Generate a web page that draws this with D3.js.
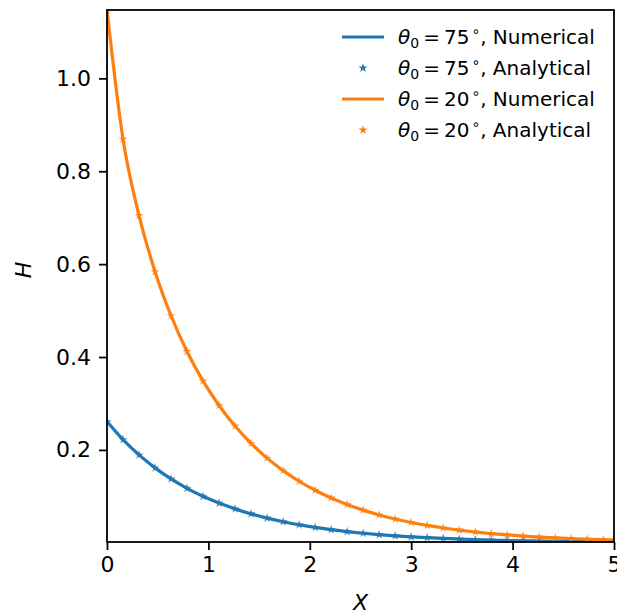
<!DOCTYPE html>
<html lang="en">
  <head>
    <meta charset="UTF-8" />
    <title>Meniscus height</title>
    <style>
      body { margin: 0; background: #fff; }
      .axis path, .axis line { fill: none; stroke: black; }
      .axis text { font-family: 'DejaVu Sans', sans-serif; font-size: 22px; fill: black; }
      .legend text { font-family: 'DejaVu Sans', sans-serif; font-size: 20px; }
    </style>
    <script src="https://d3js.org/d3.v7.min.js"></script>
  </head>
  <body>
    <svg width="617" height="614"></svg>
    <script>
      // sample positions along X (analytical markers, numerical line nodes)
      var xs = [0, 0.158, 0.316, 0.474, 0.632, 0.789, 0.947, 1.105, 1.263, 1.421,
        1.579, 1.737, 1.895, 2.053, 2.211, 2.368, 2.526, 2.684, 2.842, 3.0,
        3.158, 3.316, 3.474, 3.632, 3.789, 3.947, 4.105, 4.263, 4.421, 4.579,
        4.737, 4.895, 5.0]

      // theta0 = 75 deg
      var num75 = [0.2611, 0.2221, 0.1892, 0.1613, 0.1375, 0.1173, 0.1001, 0.0855, 0.0730, 0.0623,
        0.0532, 0.0454, 0.0388, 0.0331, 0.0283, 0.0241, 0.0206, 0.0176, 0.0150, 0.0128,
        0.0110, 0.0094, 0.0080, 0.0068, 0.0058, 0.0050, 0.0043, 0.0036, 0.0031, 0.0027,
        0.0023, 0.0019, 0.0017]
      var ana75 = [0.2611, 0.2221, 0.1892, 0.1613, 0.1375, 0.1173, 0.1001, 0.0855, 0.0730, 0.0623,
        0.0532, 0.0454, 0.0388, 0.0331, 0.0283, 0.0241, 0.0206, 0.0176, 0.0150, 0.0128,
        0.0110, 0.0094, 0.0080, 0.0068, 0.0058, 0.0050, 0.0043, 0.0036, 0.0031, 0.0027,
        0.0023, 0.0019, 0.0017]

      // theta0 = 20 deg
      var num20 = [1.1472, 0.8691, 0.7048, 0.5838, 0.4888, 0.4119, 0.3485, 0.2957, 0.2514, 0.2139,
        0.1823, 0.1554, 0.1325, 0.1131, 0.0965, 0.0824, 0.0703, 0.0600, 0.0513, 0.0438,
        0.0374, 0.0319, 0.0273, 0.0233, 0.0199, 0.0170, 0.0145, 0.0124, 0.0106, 0.0090,
        0.0077, 0.0066, 0.0059]
      var ana20 = [1.1472, 0.8691, 0.7048, 0.5838, 0.4888, 0.4119, 0.3485, 0.2957, 0.2514, 0.2139,
        0.1823, 0.1554, 0.1325, 0.1131, 0.0965, 0.0824, 0.0703, 0.0600, 0.0513, 0.0438,
        0.0374, 0.0319, 0.0273, 0.0233, 0.0199, 0.0170, 0.0145, 0.0124, 0.0106, 0.0090,
        0.0077, 0.0066, 0.0059]

      var xTicks = [0, 1, 2, 3, 4, 5]
      var yTicks = [0.2, 0.4, 0.6, 0.8, 1.0]

      var margin = { top: 10, right: 3, bottom: 72, left: 107 }
      var width = 617 - margin.left - margin.right
      var height = 614 - margin.top - margin.bottom

      var blue = '#1f77b4', orange = '#ff7f0e'

      var x = d3.scaleLinear().domain([0, 5]).range([0, width])
      var y = d3.scaleLinear().domain([0.0017, 1.1472]).range([height, 0])

      var svg = d3.select('svg')
      var g = svg.append('g')
        .attr('transform', `translate(${margin.left}, ${margin.top})`)

      svg.append('defs').append('clipPath').attr('id', 'plot')
        .append('rect').attr('width', width).attr('height', height)

      var plot = g.append('g').attr('clip-path', 'url(#plot)')

      var line = d3.line()
        .x(function(d) { return x(d[0]) })
        .y(function(d) { return y(d[1]) })
        .curve(d3.curveMonotoneX)

      var star = d3.symbol().type(d3.symbolStar).size(26)

      function series(numVals, anaVals, color) {
        plot.append('path')
          .datum(d3.zip(xs, numVals))
          .attr('d', line)
          .attr('fill', 'none')
          .attr('stroke', color)
          .attr('stroke-width', 3.2)
        plot.selectAll(null)
          .data(d3.zip(xs, anaVals))
          .enter()
          .append('path')
          .attr('d', star)
          .attr('transform', function(d) { return `translate(${x(d[0])}, ${y(d[1])})` })
          .attr('fill', color)
          .attr('opacity', 0.8)
      }
      series(num75, ana75, blue)
      series(num20, ana20, orange)

      // frame
      g.append('rect')
        .attr('width', width).attr('height', height)
        .attr('fill', 'none').attr('stroke', 'black').attr('stroke-width', 1.8)

      var xAxis = d3.axisBottom(x).tickValues(xTicks).tickFormat(d3.format('d'))
        .tickSize(8).tickPadding(6)
      g.append('g').attr('class', 'axis')
        .attr('transform', `translate(0, ${height})`)
        .call(xAxis)

      var yAxis = d3.axisLeft(y).tickValues(yTicks).tickFormat(d3.format('.1f'))
        .tickSize(8).tickPadding(8)
      g.append('g').attr('class', 'axis')
        .call(yAxis)

      g.selectAll('.axis .domain').remove()
      g.selectAll('.axis line').attr('stroke-width', 1.8)

      // axis labels
      svg.append('text')
        .attr('x', margin.left + width / 2).attr('y', 610)
        .attr('text-anchor', 'middle')
        .style('font-family', 'DejaVu Sans').style('font-size', '22px').style('font-style', 'italic')
        .text('X')
      svg.append('text')
        .attr('transform', 'translate(31, 270) rotate(-90)')
        .attr('text-anchor', 'middle')
        .style('font-family', 'DejaVu Sans').style('font-size', '22px').style('font-style', 'italic')
        .text('H')

      // legend
      var legendItems = [
        { angle: '75', kind: 'Numerical', color: blue, line: true },
        { angle: '75', kind: 'Analytical', color: blue, line: false },
        { angle: '20', kind: 'Numerical', color: orange, line: true },
        { angle: '20', kind: 'Analytical', color: orange, line: false }
      ]
      var legend = svg.append('g').attr('class', 'legend')
      var rows = legend.selectAll('g').data(legendItems).enter().append('g')
        .attr('transform', function(d, i) { return `translate(342, ${37 + i * 31})` })
      rows.filter(function(d) { return d.line }).append('line')
        .attr('x1', 0).attr('x2', 42)
        .attr('stroke', function(d) { return d.color }).attr('stroke-width', 3.2)
      rows.filter(function(d) { return !d.line }).append('path')
        .attr('d', star)
        .attr('transform', 'translate(21, 0)')
        .attr('fill', function(d) { return d.color })
      var txt = rows.append('text').attr('x', 56).attr('y', 7)
      txt.append('tspan').style('font-style', 'italic').text('θ')
      txt.append('tspan').attr('dy', 4).style('font-size', '14px').text('0')
      txt.append('tspan').attr('dy', -4).attr('dx', 4).text('=')
      txt.append('tspan').attr('dx', 4).text(function(d) { return d.angle })
      txt.append('tspan').attr('dy', -8).attr('dx', 2).style('font-size', '14px').text('∘')
      txt.append('tspan').attr('dy', 8).text(function(d) { return ', ' + d.kind })
    </script>
  </body>
</html>
